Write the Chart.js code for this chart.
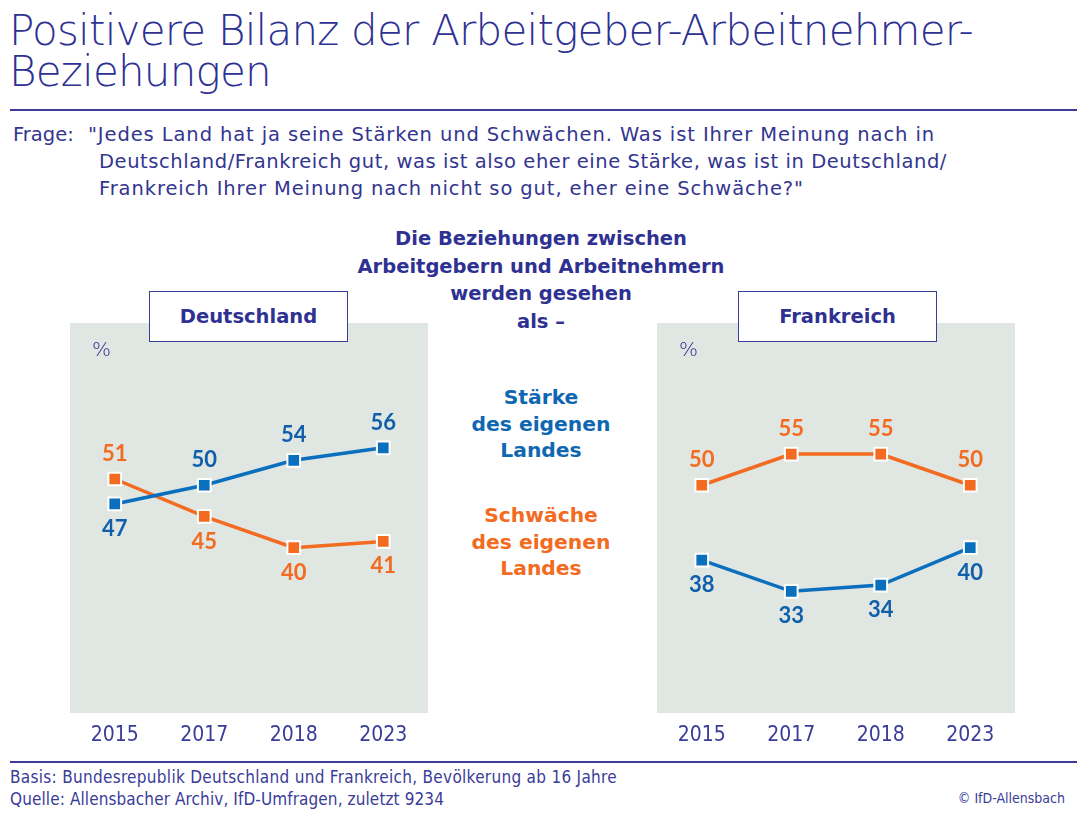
<!DOCTYPE html>
<html lang="de">
<head>
<meta charset="utf-8">
<title>Positivere Bilanz der Arbeitgeber-Arbeitnehmer-Beziehungen</title>
<script src="https://cdn.jsdelivr.net/npm/chart.js@4.4.1/dist/chart.umd.min.js"></script>
<style>
    html, body { margin: 0; padding: 0; background: #fff; }
    #page { position: relative; width: 1077px; height: 813px; overflow: hidden; font-family: "DejaVu Sans", sans-serif; color: #2e3192; }
    .abs { position: absolute; white-space: nowrap; }
    .title { left: 9px; top: 10px; font-size: 42px; line-height: 41px; font-weight: 200; }
    .rule { position: absolute; left: 10px; right: 0; height: 1.5px; background: #3a3c98; }
    .frage { font-size: 19.5px; line-height: 27px; font-weight: 400; color: #33358f; }
    .mid { left: 341px; width: 400px; text-align: center; font-weight: 700; font-size: 19.5px; line-height: 27.5px; }
    .box { position: absolute; top: 291px; width: 197px; height: 49px; border: 1.5px solid #3a3c98; background: #fff; text-align: center; line-height: 49px; font-weight: 700; font-size: 19.5px; z-index: 2; }
    .pct { top: 337px; font-size: 20px; font-weight: 200; z-index: 2; }
    .panel { position: absolute; top: 323px; width: 358px; height: 427px; }
    .foot { left: 10px; font-family: "Liberation Sans Narrow", "DejaVu Sans Condensed", sans-serif; font-size: 17px; color: #3a3c98; }
</style>
</head>
<body>
<div id="page">
    <div class="abs title" data-w="964">Positivere Bilanz der Arbeitgeber-Arbeitnehmer-<br>Beziehungen</div>
    <div class="rule" style="top:109px"></div>

    <div class="abs frage" style="left:13px;top:121px">Frage:</div>
    <div class="abs frage" style="left:88px;top:121px" data-w="847">"Jedes Land hat ja seine Stärken und Schwächen. Was ist Ihrer Meinung nach in</div>
    <div class="abs frage" style="left:99px;top:148px" data-w="848">Deutschland/Frankreich gut, was ist also eher eine Stärke, was ist in Deutschland/</div>
    <div class="abs frage" style="left:99px;top:175px" data-w="705">Frankreich Ihrer Meinung nach nicht so gut, eher eine Schwäche?"</div>

    <div class="abs mid" style="top:225px">Die Beziehungen zwischen<br>Arbeitgebern und Arbeitnehmern<br>werden gesehen<br>als –</div>
    <div class="abs mid" style="top:384px;line-height:26.5px;font-size:20.3px;color:#0f67b1">Stärke<br>des eigenen<br>Landes</div>
    <div class="abs mid" style="top:502px;line-height:26.5px;font-size:20.3px;color:#f26b21">Schwäche<br>des eigenen<br>Landes</div>

    <div class="panel" style="left:70px"><canvas id="chartDE"></canvas></div>
    <div class="panel" style="left:657px"><canvas id="chartFR"></canvas></div>

    <div class="box" style="left:149px">Deutschland</div>
    <div class="box" style="left:738px">Frankreich</div>
    <div class="abs pct" style="left:92px">%</div>
    <div class="abs pct" style="left:679px">%</div>

    <div class="rule" style="top:761px"></div>
    <div class="abs foot" style="top:767px" data-w="607">Basis: Bundesrepublik Deutschland und Frankreich, Bevölkerung ab 16 Jahre</div>
    <div class="abs foot" style="top:789px" data-w="434">Quelle: Allensbacher Archiv, IfD-Umfragen, zuletzt 9234</div>
    <div class="abs foot" style="top:790px;left:auto;right:12px;font-size:14px">© IfD-Allensbach</div>
</div>

<script>
// data
var years = ["2015", "2017", "2018", "2023"];
var deStaerke = [47, 50, 54, 56];
var deSchwaeche = [51, 45, 40, 41];
var frStaerke = [38, 33, 34, 40];
var frSchwaeche = [50, 55, 55, 50];

var blue = "#0a6fbd";
var blueText = "#0f5fab";
var orange = "#f26b21";
var panelGray = "#e0e6e1";

// stretch a few text lines to the width they have in the original
document.querySelectorAll("[data-w]").forEach(function (el) {
    var target = +el.getAttribute("data-w");
    var lines = el.innerHTML.split("<br>");
    var probe = document.createElement("span");
    probe.style.whiteSpace = "nowrap";
    probe.innerHTML = lines[0];
    el.innerHTML = "";
    el.appendChild(probe);
    var w = probe.getBoundingClientRect().width;
    var n = probe.textContent.length;
    el.innerHTML = lines.join("<br>");
    el.style.letterSpacing = ((target - w) / n) + "px";
});

// gray panel behind the plot
var panelBg = {
    id: "panelBg",
    beforeDraw: function (chart) {
        var a = chart.chartArea;
        var ctx = chart.ctx;
        ctx.save();
        ctx.fillStyle = panelGray;
        ctx.fillRect(a.left, a.top, a.right - a.left, a.bottom - a.top);
        ctx.restore();
    },
};

// value labels: the higher series gets its label above, the lower one below
var valueLabels = {
    id: "valueLabels",
    afterDatasetsDraw: function (chart) {
        var ctx = chart.ctx;
        var ds = chart.data.datasets;
        ctx.save();
        ctx.font = "bold 22px Lato, 'Noto Sans', sans-serif";
        ctx.textAlign = "center";
        ctx.textBaseline = "middle";
        ds.forEach(function (d, di) {
            var other = ds[1 - di];
            chart.getDatasetMeta(di).data.forEach(function (pt, i) {
                var up = d.data[i] > other.data[i];
                ctx.fillStyle = d.labelColor;
                ctx.fillText(String(d.data[i]), pt.x, up ? pt.y - 25 : pt.y + 25);
            });
        });
        ctx.restore();
    },
};

function makeChart(id, staerke, schwaeche) {
    var ctx = document.getElementById(id).getContext("2d");
    var series = function (values, color, textColor) {
        return {
            data: values,
            borderColor: color,
            borderWidth: 3.5,
            pointStyle: "rect",
            pointRadius: 9,
            pointHoverRadius: 9,
            pointBackgroundColor: color,
            pointBorderColor: "#fff",
            pointBorderWidth: 2,
            labelColor: textColor,
            tension: 0,
        };
    };
    return new Chart(ctx, {
        type: "line",
        data: {
            labels: years,
            datasets: [series(staerke, blue, blueText), series(schwaeche, orange, orange)],
        },
        options: {
            responsive: true,
            maintainAspectRatio: false,
            animation: false,
            layout: { padding: 0, autoPadding: false },
            plugins: { legend: { display: false }, tooltip: { enabled: false } },
            scales: {
                x: {
                    offset: true,
                    grid: { display: false, drawTicks: false },
                    border: { display: false },
                    ticks: {
                        padding: 10,
                        color: "#3a3c98",
                        font: { family: "'Liberation Sans Narrow', 'DejaVu Sans Condensed', sans-serif", size: 21 },
                    },
                    afterFit: function (s) { s.height = 37; },
                },
                y: { display: false, min: 13.5, max: 76 },
            },
        },
        plugins: [panelBg, valueLabels],
    });
}

document.fonts.ready.then(function () {
    makeChart("chartDE", deStaerke, deSchwaeche);
    makeChart("chartFR", frStaerke, frSchwaeche);
});
</script>
</body>
</html>
